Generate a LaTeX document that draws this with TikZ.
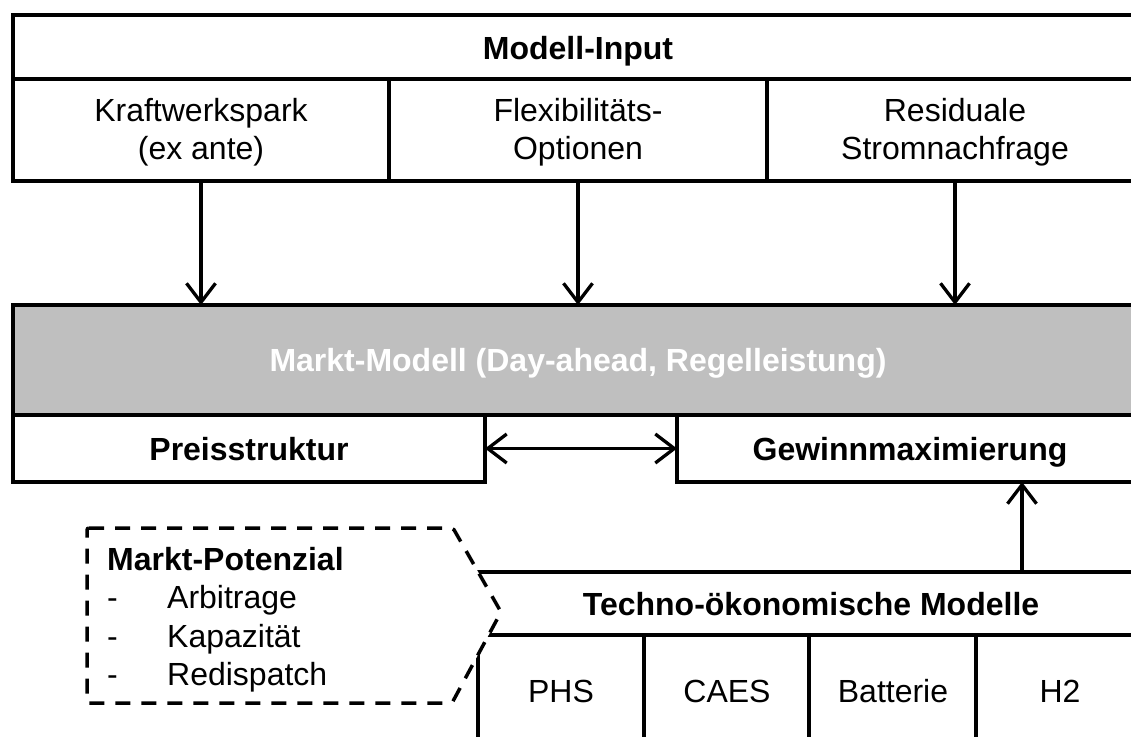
\documentclass[tikz,border=0pt]{standalone}
\usepackage{fontspec}
\setmainfont{Liberation Sans}
\usetikzlibrary{arrows.meta,calc}
\definecolor{bandgrey}{HTML}{BFBFBF}
\begin{document}
\begin{tikzpicture}[x=1pt,y=-1pt,
  frame/.style={draw=black, line width=3.5pt, fill=white, inner sep=0pt, outer sep=0pt,
                anchor=north west, rectangle},
  lbl/.style={inner sep=0pt, anchor=base, font=\fontsize{32}{38.5}\selectfont},
  bold lbl/.style={lbl, font=\fontsize{32}{38.5}\selectfont\bfseries},
  flow/.style={line width=3.3pt, -{Straight Barb[length=19pt,width=29pt,line width=3.3pt]}},
  both flow/.style={line width=3.3pt, {Straight Barb[length=19pt,width=29pt,line width=3.3pt]}-{Straight Barb[length=19pt,width=29pt,line width=3.3pt]}},
  potential/.style={draw=black, fill=white, line width=3.5pt, dash pattern=on 15pt off 11pt,
                    rounded corners=2pt}]
\useasboundingbox (0,0) rectangle (1131,736);
\clip (0,0) rectangle (1131,736);

% --- model input block
\node[frame, minimum width=1130pt, minimum height=64pt]  (head) at (13,15) {};
\node[frame, minimum width=376pt,  minimum height=102pt] (kw)   at (13,79) {};
\node[frame, minimum width=378pt,  minimum height=102pt] (flex) at (389,79) {};
\node[frame, minimum width=376pt,  minimum height=102pt] (res)  at (767,79) {};

\node[bold lbl] (headtxt) at (578,59) {Modell-Input};
\node[lbl] (kwtxt1)   at (201,121) {Kraftwerkspark};
\node[lbl] (kwtxt2)   at (201,159) {(ex ante)};
\node[lbl] (flextxt1) at (578,121) {Flexibilitäts-};
\node[lbl] (flextxt2) at (578,159) {Optionen};
\node[lbl] (restxt1)  at (955,121) {Residuale};
\node[lbl] (restxt2)  at (955,159) {Stromnachfrage};

% --- market model block
\node[frame, fill=bandgrey, minimum width=1130pt, minimum height=110pt] (markt) at (13,305) {};
\node[frame, minimum width=472pt, minimum height=67pt] (preis)  at (13,415) {};
\node[frame, minimum width=466pt, minimum height=67pt] (gewinn) at (677,415) {};

\node[bold lbl, text=white] (markttxt) at (578,371) {Markt-Modell (Day-ahead, Regelleistung)};
\node[bold lbl] (preistxt)  at (249,460) {Preisstruktur};
\node[bold lbl] (gewinntxt) at (910,460) {Gewinnmaximierung};

% --- techno-economic models
\node[frame, minimum width=665pt, minimum height=63pt]  (techno) at (478,572) {};
\node[frame, minimum width=166pt, minimum height=140pt] (phs)    at (478,635) {};
\node[frame, minimum width=165pt, minimum height=140pt] (caes)   at (644,635) {};
\node[frame, minimum width=167pt, minimum height=140pt] (batt)   at (809,635) {};
\node[frame, minimum width=167pt, minimum height=140pt] (htwo)   at (976,635) {};

\node[bold lbl] (technotxt) at (811,615) {Techno-ökonomische Modelle};
\node[lbl] (phstxt)  at (561,702) {PHS};
\node[lbl] (caestxt) at (727,702) {CAES};
\node[lbl] (batttxt) at (893,702) {Batterie};
\node[lbl] (htwotxt) at (1060,702) {H2};

% --- market potential (dashed pentagon over the model block)
\draw[potential] (87,528) -- (453,528) -- (501,612) -- (452,703) -- (87,703) -- cycle;
\node[bold lbl, anchor=base west] (pottitle) at (107,570) {Markt-Potenzial};
\node[lbl, anchor=base west] (dash1) at (107,608) {-};
\node[lbl, anchor=base west] (dash2) at (107,647) {-};
\node[lbl, anchor=base west] (dash3) at (107,685) {-};
\node[lbl, anchor=base west] (item1) at (167,608) {Arbitrage};
\node[lbl, anchor=base west] (item2) at (167,647) {Kapazität};
\node[lbl, anchor=base west] (item3) at (167,685) {Redispatch};

% --- connectors
\draw[flow] (kw.south)   -- (kw.south |- markt.north);
\draw[flow] (flex.south) -- (flex.south |- markt.north);
\draw[flow] (res.south)  -- (res.south |- markt.north);
\draw[both flow] (preis.east) -- (gewinn.west);
\draw[flow] ([xshift=211.5pt]techno.north) -- ([xshift=211.5pt]techno.north |- gewinn.south);
\end{tikzpicture}
\end{document}
